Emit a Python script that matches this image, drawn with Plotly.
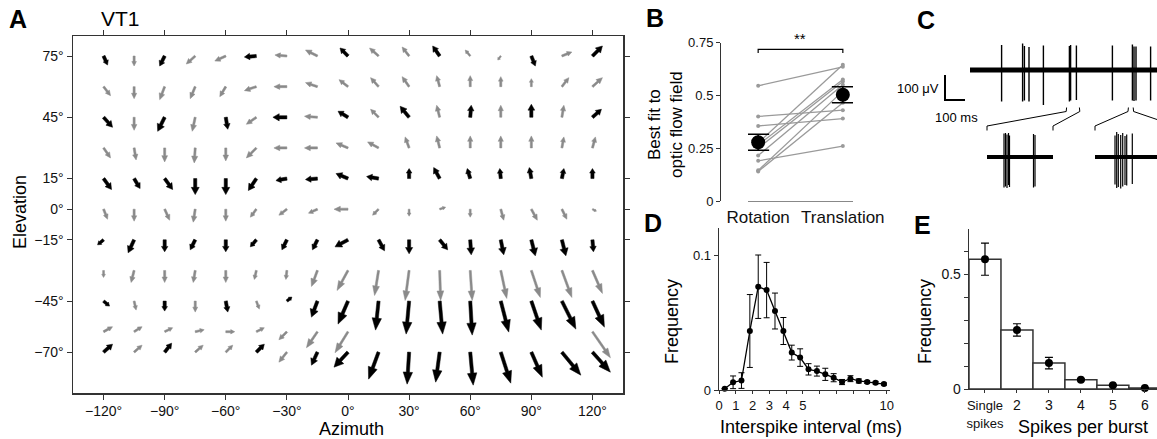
import math
import plotly.graph_objects as go

W, H = 1157, 439
FONT = "Liberation Sans, Arial, Helvetica, sans-serif"

# ---------------- Panel A : VT1 receptive field (flow vectors) ----------------
AZIMUTH = [-120, -105, -90, -75, -60, -45, -30, -15, 0, 15, 30, 45, 60, 75, 90, 105, 120]
ELEVATION = [75, 60, 45, 30, 15, 0, -15, -30, -45, -60, -70]
AZ_TICKS = [-120, -90, -60, -30, 0, 30, 60, 90, 120]
EL_TICKS = [75, 45, 15, 0, -15, -45, -70]

# horizontal / vertical flow components per elevation row (left -> right)
FLOW_U = [
    [4, 0, -5, -9, -11, -12, -12, -12, -8, -9, -7, -7, -5, -3, 4, 10, 10],
    [7, 0, -5, -5, -6, -12, -13, -12, -9, -8, -7, -3, 0, 0, 0, 7, 10],
    [9, 0, -7, -3, 2, -10, -14, -13, -10, -8, -9, -3, 1, 0, 0, 2, 9],
    [7, 2, 0, -1, 0, -10, -13, -13, -12, -11, -4, -3, 0, 0, 0, 2, 3],
    [8, 6, 8, 0, 0, -8, -11, -12, -12, -12, 0, -6, -3, -1, -2, 2, 0],
    [4, 0, 5, -2, 0, -6, -8, -9, -14, -6, 0, 6, 0, 3, 6, 5, 4],
    [-6, -6, 0, -5, 0, -6, -5, -5, -13, 6, 0, 8, 1, 3, 4, 4, 1],
    [0, -3, 0, -2, 0, -2, -1, -6, -11, -4, -4, 1, 2, 6, 9, 10, 10],
    [6, 2, 0, 0, 2, 3, 5, -6, -10, -3, -3, 3, 2, 8, 10, 14, 12],
    [9, 8, 8, 9, 9, 8, -8, -11, -13, None, None, None, None, None, None, None, 18],
    [9, 8, 7, 8, 7, 8, -8, -6, -14, -10, -2, -4, 3, 10, 11, 19, 18],
]
FLOW_V = [
    [-9, -10, -10, -8, -5, -1, 1, 6, 8, 8, 9, 10, 6, -4, -10, 4, 10],
    [-9, -12, -13, -12, -10, -4, 0, 4, 7, 9, 10, 11, 11, 10, 8, 9, 9],
    [-10, -13, -14, -14, -12, -7, 0, 1, 6, 8, 11, 12, 12, 12, 13, 12, 8],
    [-10, -12, -14, -15, -13, -10, 0, 0, 5, 6, 11, 12, 12, 12, 12, 11, 11],
    [-11, -10, -11, -16, -16, -12, -2, -1, 5, 2, 10, 11, 10, 10, 11, 10, 10],
    [-10, -12, -11, -13, -12, -8, -6, -4, 0, -6, -7, 2, -8, -11, -11, -10, -2],
    [-5, -13, -12, -10, -12, -7, -10, -10, -7, -11, -14, -10, -15, -15, -16, -16, -12],
    [-7, -12, -12, -12, -12, -9, -9, -16, -20, -25, -30, -30, -30, -28, -27, -27, -23],
    [-5, -9, -10, -11, -11, -8, 4, -16, -23, -29, -33, -33, -34, -31, -29, -28, -26],
    [5, 5, 4, 2, 0, 4, -8, -16, -21, None, None, None, None, None, None, None, -26],
    [8, 7, 9, 7, 7, 8, -10, -13, -15, -27, -32, -30, -33, -31, -25, -23, -20],
]
# 1 = measured (black), 0 = interpolated (grey)
MEASURED = [
    [1, 0, 1, 0, 0, 1, 0, 0, 1, 0, 0, 1, 0, 0, 1, 0, 1],
    [0] * 17,
    [1, 0, 1, 0, 1, 0, 1, 0, 1, 0, 1, 0, 1, 0, 1, 0, 1],
    [0] * 17,
    [1] * 17,
    [0] * 17,
    [1] * 17,
    [0] * 17,
    [1, 0, 1, 0, 1, 0, 1, 1, 1, 1, 1, 1, 1, 1, 1, 1, 1],
    [0] * 17,
    [1, 0, 1, 0, 0, 1, 0, 1, 1, 1, 1, 1, 1, 1, 1, 1, 1],
]
FLOW_SCALE = 0.49  # degrees per flow unit

# ---------------- Panel B ----------------
B_CATS = ["Rotation", "Translation"]
FIT_ROT = [0.545, 0.40, 0.355, 0.19, 0.275, 0.265, 0.25, 0.215, 0.145, 0.14]
FIT_TRANS = [0.635, 0.43, 0.39, 0.26, 0.645, 0.575, 0.565, 0.55, 0.52, 0.465]
FIT_MEAN = [0.278, 0.503]
FIT_SEM = [0.038, 0.038]

# ---------------- Panel C : extracellular trace ----------------
TRACE_END_MS = 940
SPIKE_T = [158, 263, 272, 295, 367, 497, 503, 532, 712, 812, 820, 830, 903]
SPIKE_UP = [100, 106, 96, 92, 98, 96, 100, 98, 98, 102, 94, 94, 94]
SPIKE_DN = [-126, -126, -122, -126, -140, -126, -122, -120, -122, -122, -124, -122, -122]
WINDOWS = [(483, 547), (792, 816)]
INSET1_LEN = 66
INSET1_T = [17, 18.5, 20, 21.5, 22.5, 46.5, 48]
INSET1_UP = [94, 96, 90, 96, 86, 92, 88]
INSET1_DN = [-122, -118, -124, -112, -120, -122, -118]
INSET2_LEN = 70
INSET2_T = [20, 21.7, 23.3, 25.7, 27.7, 30, 31.7, 37.3]
INSET2_UP = [86, 100, 92, 88, 96, 84, 90, 94]
INSET2_DN = [-110, -124, -120, -126, -118, -112, -114, -108]
SCALE_UV = 100
SCALE_MS = 100

# ---------------- Panel D : ISI distribution ----------------
ISI_X = [0.34, 0.84, 1.34, 1.84, 2.34, 2.84, 3.34, 3.84, 4.34, 4.84,
         5.34, 5.84, 6.34, 6.84, 7.34, 7.84, 8.34, 8.84, 9.34, 9.84]
ISI_Y = [0.001, 0.0057, 0.007, 0.0437, 0.0765, 0.074, 0.0585, 0.0437, 0.0277, 0.024,
         0.0153, 0.014, 0.0116, 0.0091, 0.0059, 0.0084, 0.0067, 0.0059, 0.0054, 0.0044]
ISI_ERR = [0.0, 0.0047, 0.0058, 0.027, 0.0235, 0.0205, 0.0133, 0.01, 0.0055, 0.0065,
           0.0042, 0.0037, 0.0045, 0.003, 0.0019, 0.0022, 0.0015, 0.001, 0.001, 0.0008]

# ---------------- Panel E : spikes per burst ----------------
BURST_LABELS = ['<span style="font-size:13px">Single<br>spikes</span>', "2", "3", "4", "5", "6"]
BURST_X = [1, 2, 3, 4, 5, 6]
BURST_FREQ = [0.565, 0.257, 0.113, 0.040, 0.016, 0.004]
BURST_ERR = [0.07, 0.027, 0.025, 0.004, 0.003, 0.002]


def fx(p):
    return p / W


def fy(p):
    return 1 - p / H


fig = go.Figure()

# ---------- Panel A arrows ----------
PXDEG = 2.04


def arrow(x0, y0, u, v, black):
    dx = u * FLOW_SCALE * PXDEG
    dy = v * FLOW_SCALE * PXDEG
    L = math.hypot(dx, dy)
    if L < 0.5:
        return [], []
    ux, uy = dx / L, dy / L
    nx, ny = -uy, ux
    if black:
        hl = min(12.0, 0.45 * L)
        hw = min(4.7, 0.2 * L + 0.8)
        sw = min(1.6, 0.08 * L + 0.8)
    else:
        hl = min(9.5, 0.45 * L)
        hw = min(3.4, 0.15 * L + 0.8)
        sw = min(1.05, 0.05 * L + 0.55)
    bx, by = dx - ux * hl, dy - uy * hl
    pts = [(nx * sw, ny * sw), (bx + nx * sw, by + ny * sw), (bx + nx * hw, by + ny * hw),
           (dx, dy), (bx - nx * hw, by - ny * hw), (bx - nx * sw, by - ny * sw),
           (-nx * sw, -ny * sw), (nx * sw, ny * sw)]
    return ([x0 + p[0] / PXDEG for p in pts] + [None],
            [y0 + p[1] / PXDEG for p in pts] + [None])


for want_black, col in [(0, "#8a8a8a"), (1, "#000000")]:
    xs, ys = [], []
    for r, el in enumerate(ELEVATION):
        for c, az in enumerate(AZIMUTH):
            u = FLOW_U[r][c]
            v = FLOW_V[r][c]
            if u is None or MEASURED[r][c] != want_black:
                continue
            ax_, ay_ = arrow(az, el, u, v, want_black == 1)
            xs += ax_
            ys += ay_
    fig.add_trace(go.Scatter(x=xs, y=ys, mode="lines", fill="toself", fillcolor=col,
                             line=dict(color=col, width=0.5), xaxis="x", yaxis="y",
                             hoverinfo="skip"))

# ---------- Panel B ----------
for r_, t_ in zip(FIT_ROT, FIT_TRANS):
    fig.add_trace(go.Scatter(x=[0, 1], y=[r_, t_], mode="lines+markers",
                             line=dict(color="#9a9a9a", width=1.3),
                             marker=dict(color="#9a9a9a", size=4),
                             xaxis="x2", yaxis="y2", hoverinfo="skip"))
fig.add_trace(go.Scatter(x=[0, 1], y=FIT_MEAN, mode="markers",
                         marker=dict(color="black", size=14),
                         error_y=dict(type="data", array=FIT_SEM, color="black",
                                      thickness=1.5, width=11),
                         xaxis="x2", yaxis="y2", cliponaxis=False, hoverinfo="skip"))
fig.add_trace(go.Scatter(x=[0, 0, 1, 1], y=[0.70, 0.717, 0.717, 0.70], mode="lines",
                         line=dict(color="black", width=1.2), xaxis="x2", yaxis="y2",
                         cliponaxis=False, hoverinfo="skip"))

# ---------- Panel C ----------
def spikes(ts, ups, dns):
    xs, ys = [], []
    for t, u, d in zip(ts, ups, dns):
        xs += [t, t, None]
        ys += [d, u, None]
    return xs, ys


fig.add_trace(go.Scatter(x=[0, TRACE_END_MS], y=[0, 0], mode="lines",
                         line=dict(color="black", width=5), xaxis="x5", yaxis="y5",
                         hoverinfo="skip"))
sx, sy = spikes(SPIKE_T, SPIKE_UP, SPIKE_DN)
fig.add_trace(go.Scatter(x=sx, y=sy, mode="lines", line=dict(color="black", width=1.4),
                         xaxis="x5", yaxis="y5", hoverinfo="skip"))
# scale bar
fig.add_trace(go.Scatter(x=[-125, -125, -125 + SCALE_MS], y=[-120 + SCALE_UV, -120, -120],
                         mode="lines", line=dict(color="black", width=2),
                         xaxis="x5", yaxis="y5", hoverinfo="skip"))
# zoom brackets (window on main trace -> inset extent)
INSET_SPAN_MS = [(85, 415), (625, 1030)]
bx, by = [], []
for (w0, w1), (i0, i1) in zip(WINDOWS, INSET_SPAN_MS):
    bx += [w0, w0 - 2, i0, i0, None, w1, w1 + 2, i1, i1, None]
    by += [-150, -166, -224, -242, None, -150, -166, -224, -242, None]
fig.add_trace(go.Scatter(x=bx, y=by, mode="lines", line=dict(color="black", width=1),
                         xaxis="x5", yaxis="y5", hoverinfo="skip"))
# insets
for ax_id, length, ts, ups, dns in [("6", INSET1_LEN, INSET1_T, INSET1_UP, INSET1_DN),
                                    ("7", INSET2_LEN, INSET2_T, INSET2_UP, INSET2_DN)]:
    fig.add_trace(go.Scatter(x=[0, length], y=[0, 0], mode="lines",
                             line=dict(color="black", width=4),
                             xaxis="x" + ax_id, yaxis="y" + ax_id, hoverinfo="skip"))
    ix, iy = spikes(ts, ups, dns)
    fig.add_trace(go.Scatter(x=ix, y=iy, mode="lines", line=dict(color="black", width=1.2),
                             xaxis="x" + ax_id, yaxis="y" + ax_id, hoverinfo="skip"))

# ---------- Panel D ----------
fig.add_trace(go.Scatter(x=ISI_X, y=ISI_Y, mode="lines+markers",
                         line=dict(color="black", width=1.3),
                         marker=dict(color="black", size=6),
                         error_y=dict(type="data", array=ISI_ERR, color="black",
                                      thickness=1, width=3),
                         xaxis="x3", yaxis="y3", cliponaxis=False, hoverinfo="skip"))

# ---------- Panel E ----------
fig.add_trace(go.Bar(x=BURST_X, y=BURST_FREQ, width=1.0,
                     marker=dict(color="white", line=dict(color="#333333", width=1.5)),
                     xaxis="x4", yaxis="y4", hoverinfo="skip"))
fig.add_trace(go.Scatter(x=BURST_X, y=BURST_FREQ, mode="markers",
                         marker=dict(color="black", size=8),
                         error_y=dict(type="data", array=BURST_ERR, color="black",
                                      thickness=1.2, width=4),
                         xaxis="x4", yaxis="y4", cliponaxis=False, hoverinfo="skip"))

AXC = "#333333"


def tickf(s):
    return dict(family=FONT, size=s, color="#111111")


def deg(v):
    return ("\u2212%d\u00b0" % (-v)) if v < 0 else ("%d\u00b0" % v)


hidden = dict(visible=False, showgrid=False, zeroline=False, automargin=False)
common = dict(showgrid=False, zeroline=False, automargin=False, tickcolor=AXC,
              linecolor=AXC, showline=True)

fig.update_layout(
    width=W, height=H, margin=dict(l=0, r=0, t=0, b=0, pad=0, autoexpand=False),
    paper_bgcolor="white", plot_bgcolor="rgba(0,0,0,0)", showlegend=False,
    font=dict(family=FONT, color="#111111"),
    xaxis=dict(domain=[fx(73), fx(623)], range=[-135, 135], tickvals=AZ_TICKS,
               ticktext=[deg(v) for v in AZ_TICKS], ticks="outside", ticklen=5,
               linewidth=1.5, mirror="ticks", tickfont=tickf(14), anchor="y", **common),
    yaxis=dict(domain=[fy(393), fy(36)], range=[-90, 84.8], tickvals=EL_TICKS,
               ticktext=[deg(v) for v in EL_TICKS], ticks="outside", ticklen=5,
               linewidth=1.5, mirror="ticks", tickfont=tickf(14), anchor="x", **common),
    xaxis2=dict(domain=[fx(748), fx(853)], range=[-0.12, 1.12], tickvals=[0, 1],
                ticktext=B_CATS, ticks="", linewidth=1.3, tickfont=tickf(17), anchor="y2",
                showgrid=False, zeroline=False, automargin=False, showline=True,
                linecolor="#888888"),
    yaxis2=dict(domain=[fy(201), fy(42.5)], range=[0, 0.75], tickvals=[0, 0.25, 0.5, 0.75],
                ticktext=["0", "0.25", "0.5", "0.75"], ticks="outside", ticklen=4,
                linewidth=1.3, tickfont=tickf(13), anchor="free", position=fx(720), **common),
    xaxis3=dict(domain=[fx(719), fx(890)], range=[0, 10.2], tickvals=list(range(11)),
                ticktext=["0", "1", "2", "3", "4", "5", "", "", "", "", "10"],
                ticks="outside", ticklen=3, linewidth=1.3, tickfont=tickf(13), anchor="y3",
                **common),
    yaxis3=dict(domain=[fy(390), fy(228)], range=[0, 0.12], tickvals=[0, 0.1],
                ticktext=["0", "0.1"], ticks="outside", ticklen=4, linewidth=1.3,
                tickfont=tickf(13), anchor="x3", **common),
    xaxis4=dict(domain=[fx(969), 1.0], range=[0.5, 6.38], tickvals=BURST_X,
                ticktext=BURST_LABELS, ticks="outside", ticklen=3, linewidth=1.3,
                tickfont=tickf(14), anchor="y4", **common),
    yaxis4=dict(domain=[fy(389), fy(229.3)], range=[0, 0.695],
                tickvals=[0, 0.1, 0.2, 0.3, 0.4, 0.5, 0.6],
                ticktext=["0", "", "", "", "", "0.5", ""], ticks="outside", ticklen=4,
                linewidth=1.3, tickfont=tickf(14), anchor="x4", **common),
    xaxis5=dict(domain=[fx(900), 1.0], range=[-350, 935], anchor="y5", **hidden),
    yaxis5=dict(domain=[fy(135), fy(30)], range=[-260, 160], anchor="x5", **hidden),
    xaxis6=dict(domain=[fx(987), fx(1053)], range=[0, 66], anchor="y6", **hidden),
    yaxis6=dict(domain=[fy(200), fy(120)], range=[-172, 148], anchor="x6", **hidden),
    xaxis7=dict(domain=[fx(1095), 1.0], range=[0, 62], anchor="y7", **hidden),
    yaxis7=dict(domain=[fy(200), fy(120)], range=[-172, 148], anchor="x7", **hidden),
)


def note(text, x, y, size, bold=False, angle=0, xanchor="center", yanchor="middle"):
    fig.add_annotation(text=("<b>%s</b>" % text) if bold else text, x=fx(x), y=fy(y),
                       xref="paper", yref="paper", showarrow=False, textangle=angle,
                       xanchor=xanchor, yanchor=yanchor,
                       font=dict(family=FONT, size=size, color="black"))


note("A", 18, 19, 25, bold=True)
note("VT1", 120, 19, 21)
note("Azimuth", 352, 429, 18)
note("Elevation", 20, 212, 18, angle=-90)
note("B", 655, 18, 25, bold=True)
note("**", 800, 38, 15)
note("Best fit to<br>optic flow field", 665, 125, 17, angle=-90)
note("C", 926, 20, 25, bold=True)
note("100 \u03bcV", 941, 88, 13, xanchor="right")
note("100 ms", 956, 118, 13)
note("D", 653, 223, 25, bold=True)
note("Frequency", 672, 322, 18, angle=-90)
note("Interspike interval (ms)", 811, 427, 18)
note("E", 923, 225, 25, bold=True)
note("Frequency", 925, 322, 18, angle=-90)
note("Spikes per burst", 1083, 427, 18)

fig.write_html("out.html", config={"displayModeBar": False, "staticPlot": True},
               post_script="document.body.style.margin='0';document.body.style.overflow='hidden';")
